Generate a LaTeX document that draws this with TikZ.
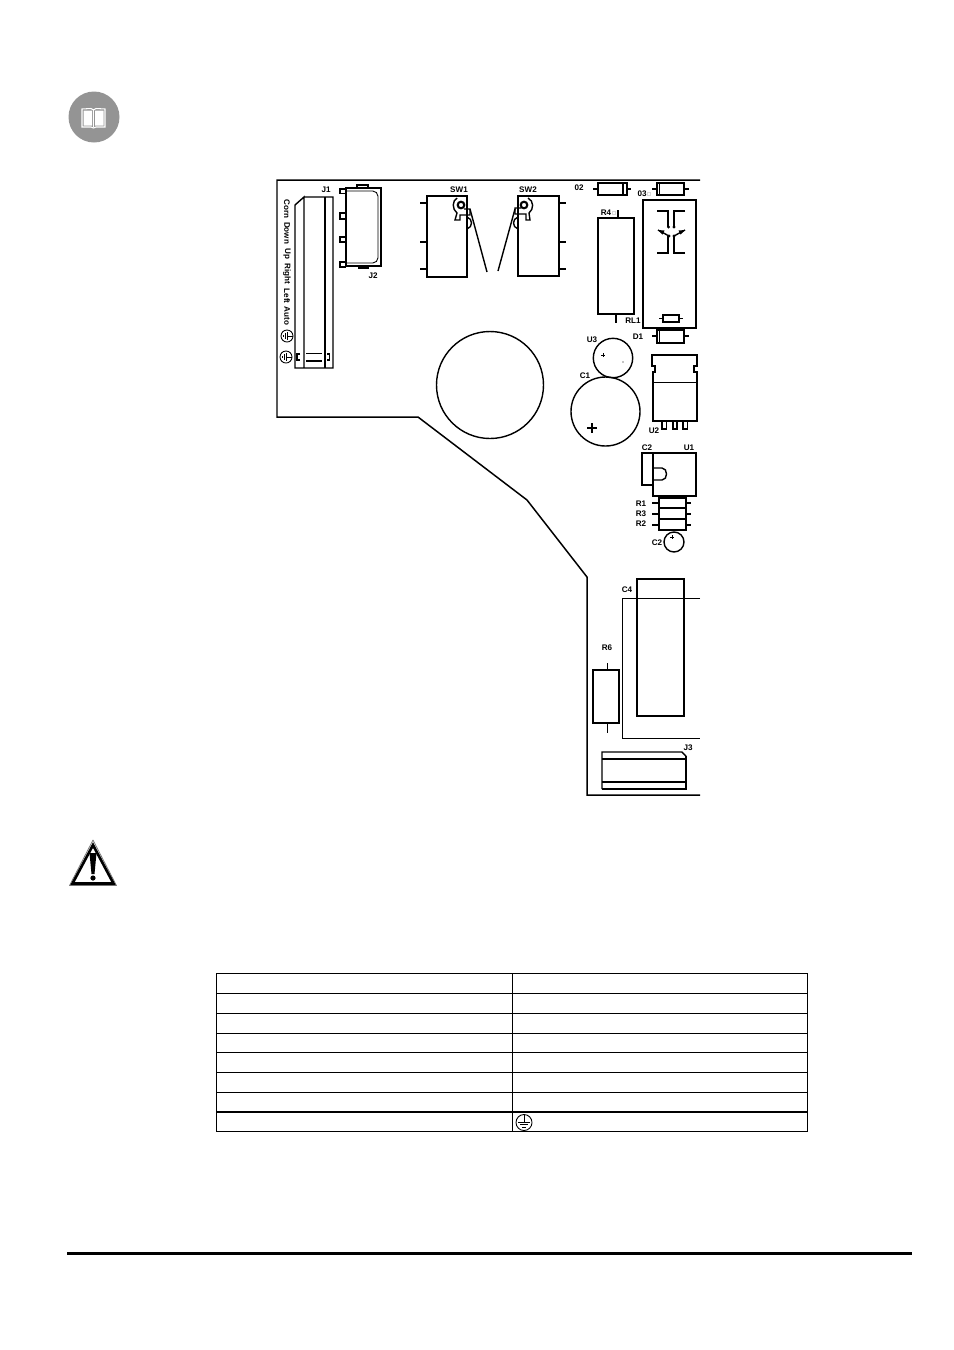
\documentclass[tikz,border=0pt]{standalone}
\usepackage{fontspec}
\setsansfont{Liberation Sans}
\usetikzlibrary{arrows}

\tikzset{earth/.pic={
	\draw[thin line] (0,0) circle [radius=#1];
	\draw[thin line] (0,-#1) -- (0,-0.1*#1);
	\draw[thin line] (-0.7*#1,0) -- (0.7*#1,0);
	\draw[thin line] (-0.45*#1,0.3*#1) -- (0.45*#1,0.3*#1);
	\draw[thin line] (-0.2*#1,0.6*#1) -- (0.2*#1,0.6*#1);
}}

\begin{document}
\begin{tikzpicture}
	[x=0.02cm,y=-0.02cm,line join=miter]
	\tikzstyle{thin line}=[line width=0.5pt]
	\tikzstyle{part}=[line width=0.8pt]
	\tikzstyle{board}=[line width=0.85pt]
	\tikzstyle{heavy}=[line width=1.2pt]
	\tikzstyle{grid}=[line width=0.5pt]
	\tikzstyle{lbl}=[inner sep=0pt,font=\sffamily\bfseries\fontsize{4.6}{5}\selectfont]
	\tikzstyle{side}=[lbl,rotate=-90,font=\sffamily\bfseries\fontsize{4.6}{5}\selectfont]
	\tikzstyle{tiny box}=[draw=black!15,line width=0.4pt]

	\useasboundingbox (0,0) rectangle (954,1350);

	% info icon
	\fill[black!42] (94,117) circle [radius=25.5];
	\draw[white,line width=0.6pt] (82,127) -- (82,109) -- (91,108.5) -- (93.5,110) -- (96,108.5) -- (105,109) -- (105,127) -- (96,127) -- (93.5,128) -- (91,127) -- cycle;
	\draw[white,line width=0.6pt] (93.5,110) -- (93.5,127);
	\fill[white] (83.5,110.5) rectangle (92,125.5) (95,110.5) rectangle (103.5,125.5);

	% board outline
	\draw[board] (700,180) -- (277,180) -- (277,417) -- (418,417) -- (527,500) -- (587,577) -- (587,795) -- (700,795);

	% J1
	\draw[part] (304,197) -- (325,197) -- (333,197) -- (333,368) -- (295,368) -- (295,205) -- (304,197) -- (304,368);
	\draw[part] (325,197) -- (325,368);
	\draw[part] (300,354) -- (297,354) -- (297,360) -- (300,360);
	\draw[part] (327,354) -- (329.5,354) -- (329.5,360) -- (327,360);
	\draw[thin line] (306,353) -- (322,353);
	\draw[heavy] (306,361) -- (322,361);

	% J2
	\draw[part] (346,188) rectangle (381,266);
	\draw[thin line,rounded corners=3pt] (346,191) -- (378,191) -- (378,263) -- (346,263);
	\draw[part] (346,189) -- (340,189) -- (340,193.5) -- (346,193.5);
	\draw[part] (346,213) -- (340,213) -- (340,219) -- (346,219);
	\draw[part] (346,237) -- (340,237) -- (340,242) -- (346,242);
	\draw[part] (346,262) -- (340,262) -- (340,267) -- (346,267);
	\draw[part] (357,188) -- (357,185) -- (368,185) -- (368,188);
	\draw[heavy] (358,267.5) -- (369,267.5);

	% SW1
	\draw[part] (427,196) rectangle (467,277);
	\draw[part] (420,203) -- (427,203) (420,242) -- (427,242) (420,269) -- (427,269);
	\draw[part] (457,198) .. controls (452,201) and (452,209) .. (457,213) -- (455,220) -- (460,220) -- (460,215) -- (470,215) -- (470,209) -- (464,209);
	\draw[heavy] (461,205) circle [radius=3.3];
	\draw[part] (470,209) -- (487,272);
	\draw[part] (467,217) .. controls (473,219) and (473,227) .. (467,229);

	% SW2
	\draw[part] (518,196) rectangle (559,276);
	\draw[part] (559,203) -- (566,203) (559,242) -- (566,242) (559,269) -- (566,269);
	\draw[part] (528,198) .. controls (534,201) and (534,209) .. (529,213) -- (530,220) -- (526,220) -- (526,214) -- (515,214) -- (515,208) -- (521,208);
	\draw[heavy] (524,205) circle [radius=3.3];
	\draw[part] (515,209) -- (498,271);
	\draw[part] (518,217) .. controls (512,219) and (512,227) .. (518,229);

	% diodes
	\draw[part] (598,183) rectangle (627,195) (623,183) -- (623,195);
	\draw[heavy] (593,189) -- (598,189) (627,189) -- (631,189);
	\draw[part] (657,183) rectangle (684,195) (659.5,183) -- (659.5,195);
	\draw[heavy] (652,189) -- (657,189) (684,189) -- (689,189);
	\draw[part] (657,330) rectangle (684,343) (659.5,330) -- (659.5,343);
	\draw[heavy] (652,336) -- (657,336) (684,336) -- (689,336);

	% R4
	\draw[part] (598,218) rectangle (634,314);
	\draw[part] (618,210) -- (618,218) (616,314) -- (616,323);

	% RL1
	\draw[part] (643,200) rectangle (696,328);
	\draw[part] (657,211) -- (668,211) -- (668,227);
	\draw[part] (685,211) -- (674,211) -- (674,227);
	\draw[part] (657,253) -- (668,253) -- (668,236);
	\draw[part] (685,253) -- (674,253) -- (674,236);
	\draw[part] (658,230) -- (669,236);
	\draw[part] (685,230) -- (674,236);
	\fill (658,230) -- (664.5,230.5) -- (662.5,234.5) -- cycle;
	\fill (685,230) -- (678.5,230.5) -- (680.5,234.5) -- cycle;
	\fill (668.5,227) circle [radius=1.6] (674,227) circle [radius=1.6] (669,236) circle [radius=1.6] (674,236) circle [radius=1.6];
	\draw[part] (663,315) rectangle (679,322);
	\draw[part] (659,318.5) -- (663,318.5) (679,318.5) -- (683,318.5);

	% round parts
	\draw[part] (490,385) circle [radius=53.5];
	\draw[part] (613,358) circle [radius=19.7];
	\draw[thin line] (601,355) -- (605,355) (603,353) -- (603,357);
	\fill (623,362) circle [radius=0.6];
	\draw[part] (605.5,411.5) circle [radius=34.5];
	\draw[line width=1.6pt] (587,428) -- (597,428) (592,423) -- (592,433);

	% U2
	\draw[part] (653,421) -- (653,372) -- (655,372) -- (655,366) -- (652,366) -- (652,355) -- (697,355) -- (697,366) -- (694,366) -- (694,372) -- (697,372) -- (697,421) -- cycle;
	\draw[thin line] (653,382) -- (697,382);
	\draw[part] (662,421) -- (662,429) -- (666.5,429) -- (666.5,421);
	\draw[part] (673,421) -- (673,429) -- (677,429) -- (677,421);
	\draw[part] (683,421) -- (683,429) -- (687.5,429) -- (687.5,421);

	% U1 and C2
	\draw[part] (653,453) rectangle (696,496);
	\draw[part] (653,453) -- (642,453) -- (642,485) -- (653,485);
	\draw[part] (653,468) -- (662,468) .. controls (668,468) and (668,480) .. (662,480) -- (653,480);

	% R1 R3 R2
	\draw[part] (659,498) rectangle (686,530);
	\draw[part] (659,508) -- (686,508) (659,519) -- (686,519);
	\draw[part] (652,503) -- (659,503) (652,514) -- (659,514) (652,525) -- (659,525);
	\draw[part] (686,503) -- (691,503) (686,514) -- (691,514) (686,525) -- (691,525);
	\draw[part] (674,542) circle [radius=10];
	\draw[thin line] (670,537) -- (674,537) (672,535) -- (672,539);

	% C4 and the block over it
	\draw[thin line] (700,598) -- (622,598) -- (622,738) -- (700,738);
	\draw[part] (637,579) rectangle (684,716);

	% R6
	\draw[heavy] (593,670) rectangle (619,723);
	\draw[thin line] (607,663) -- (607,670) (607,723) -- (607,733);

	% J3
	\draw[part] (602,789) -- (602,752) -- (682,752) -- (686,756);
	\draw[heavy] (686,756) -- (686,789) -- (602,789);
	\draw[part] (602,759) -- (686,759);
	\draw[heavy] (602,782) -- (686,782);

	% labels
	\node[lbl] (J1) at (326,190) {J1};
	\node[lbl] (J2) at (373,276) {J2};
	\node[lbl] (SW1) at (459,190) {SW1};
	\node[lbl] (SW2) at (528,190) {SW2};
	\node[lbl] (D2) at (579,188) {02};
	\node[lbl] (D3) at (642,194) {03};
	\node[lbl] (R4) at (606,213) {R4};
	\node[lbl] (RL1) at (633,321) {RL1};
	\node[lbl] (D1) at (638,337) {D1};
	\node[lbl] (U3) at (592,340) {U3};
	\node[lbl] (C1) at (585,376) {C1};
	\node[lbl] (U2) at (654,431) {U2};
	\node[lbl] (C2a) at (647,448) {C2};
	\node[lbl] (U1) at (689,448) {U1};
	\node[lbl] (R1) at (641,504) {R1};
	\node[lbl] (R3) at (641,514) {R3};
	\node[lbl] (R2) at (641,524) {R2};
	\node[lbl] (C2b) at (657,543) {C2};
	\node[lbl] (C4) at (627,590) {C4};
	\node[lbl] (R6) at (607,648) {R6};
	\node[lbl] (J3) at (688,748) {J3};
	\node[tiny box,minimum size=0.06cm,inner sep=0pt] (D3box) at (649,194) {};
	\node[tiny box,minimum size=0.06cm,inner sep=0pt] (R4box) at (614,213) {};

	\node[side] (Corn) at (287,209) {Corn};
	\node[side] (Down) at (287,233) {Down};
	\node[side] (Up) at (287,254) {Up};
	\node[side] (Right) at (287,274) {Right};
	\node[side] (Left) at (287,296) {Left};
	\node[side] (Auto) at (287,316) {Auto};
	\pic[rotate=-90,line width=0.8pt] at (287,336) {earth=6};
	\pic[rotate=-90,line width=0.8pt] at (286,357) {earth=6};

	% warning sign
	\draw[black!55,line width=0.4pt,line join=round] (93,840) -- (69.5,885.5) -- (116.5,885.5) -- cycle;
	\draw[line width=1.5pt,line join=miter] (93,845) -- (72.5,883.5) -- (113.5,883.5) -- cycle;
	\fill (89.5,853) -- (96.5,853) -- (94.5,874) -- (91.5,874) -- cycle;
	\fill (93,878) circle [radius=2.6];

	% table
	\draw[grid] (216,973) rectangle (807,1131);
	\draw[grid] (512,973) -- (512,1131);
	\draw[grid] (216,993) -- (807,993);
	\draw[grid] (216,1013) -- (807,1013);
	\draw[grid] (216,1033) -- (807,1033);
	\draw[grid] (216,1052) -- (807,1052);
	\draw[grid] (216,1072) -- (807,1072);
	\draw[grid] (216,1092) -- (807,1092);
	\draw[line width=0.9pt] (216,1112) -- (807,1112);
	\pic at (524,1122.5) {earth=8};

	% foot rule
	\draw[line width=1.7pt] (67,1253) -- (912,1253);
\end{tikzpicture}
\end{document}
